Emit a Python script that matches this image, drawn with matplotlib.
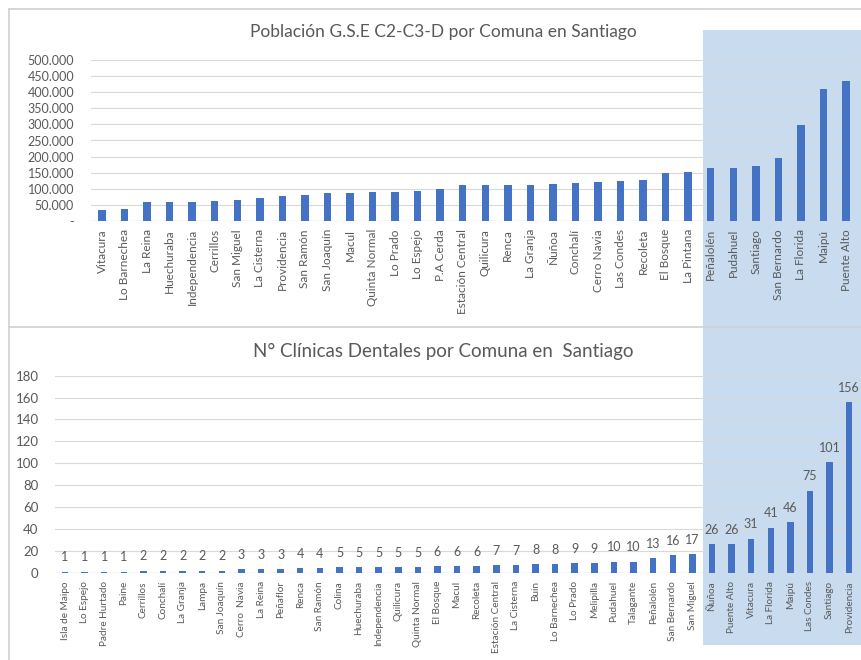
import matplotlib
matplotlib.use("Agg")
import matplotlib.pyplot as plt
from matplotlib.patches import Rectangle
from matplotlib.lines import Line2D
from matplotlib.ticker import FuncFormatter

# Population of socioeconomic groups C2-C3-D by commune
pop_comunas = ["Vitacura", "Lo Barnechea", "La Reina", "Huechuraba", "Independencia",
               "Cerrillos", "San Miguel", "La Cisterna", "Providencia", "San Ramón",
               "San Joaquín", "Macul", "Quinta Normal", "Lo Prado", "Lo Espejo",
               "P.A Cerda", "Estación Central", "Quilicura", "Renca", "La Granja",
               "Ñuñoa", "Conchalí", "Cerro Navia", "Las Condes", "Recoleta",
               "El Bosque", "La Pintana", "Peñalolén", "Pudahuel", "Santiago",
               "San Bernardo", "La Florida", "Maipú", "Puente Alto"]
pop_values = [33000, 36000, 57000, 57000, 59000, 61000, 64000, 72000, 77000, 79000,
              85000, 85000, 89000, 89000, 94000, 98000, 111000, 111000, 111000, 111000,
              115000, 116000, 121000, 125000, 127000, 150000, 152000, 164000, 164000,
              171000, 196000, 298000, 410000, 435000]

# Number of dental clinics by commune
clin_comunas = ["Isla de Maipo", "Lo Espejo", "Padre Hurtado", "Paine", "Cerrillos",
                "Conchalí", "La Granja", "Lampa", "San Joaquín", "Cerro  Navia",
                "La Reina", "Peñaflor", "Renca", "San Ramón", "Colina", "Huechuraba",
                "Independencia", "Quilicura", "Quinta Normal", "El Bosque", "Macul",
                "Recoleta", "Estación Central", "La Cisterna", "Buin", "Lo Barnechea",
                "Lo Prado", "Melipilla", "Pudahuel", "Talagante", "Peñalolén",
                "San Bernardo", "San Miguel", "Ñuñoa", "Puente Alto", "Vitacura",
                "La Florida", "Maipú", "Las Condes", "Santiago", "Providencia"]
clin_values = [1, 1, 1, 1, 2, 2, 2, 2, 2, 3, 3, 3, 4, 4, 5, 5, 5, 5, 5, 6, 6, 6, 7, 7,
               8, 8, 9, 9, 10, 10, 13, 16, 17, 26, 26, 31, 41, 46, 75, 101, 156]

pop_ticks = list(range(0, 500001, 50000))
clin_ticks = list(range(0, 181, 20))

BAR = "#4472C4"
HILITE = "#C8DBEF"
GRID = "#D9D9D9"
TXT = "#595959"
FONT = ["Lato", "DejaVu Sans"]

plt.rcParams["font.family"] = FONT

W, H = 862, 660
fig = plt.figure(figsize=(W / 100, H / 100), dpi=100)
fig.patch.set_facecolor("white")


def fx(px):
    return px / W


def fy(py):
    return 1 - py / H


# highlighted block of the largest communes
fig.add_artist(Rectangle((fx(703), fy(645)), fx(862) - fx(703), fy(30) - fy(645),
                         transform=fig.transFigure, facecolor=HILITE,
                         edgecolor="none", zorder=0))

# chart frames
frame_kw = dict(transform=fig.transFigure, color="#D0D0D0", linewidth=1.2, zorder=1)
fig.add_artist(Line2D([fx(9), 1], [fy(9), fy(9)], **frame_kw))
fig.add_artist(Line2D([fx(9), fx(9)], [fy(9), fy(660)], **frame_kw))
fig.add_artist(Line2D([fx(9), 1], [fy(327), fy(327)], **frame_kw))


def style_axes(ax):
    ax.set_facecolor("none")
    for s in ax.spines.values():
        s.set_visible(False)
    ax.grid(axis="y", color=GRID, linewidth=0.8)
    ax.set_axisbelow(True)
    ax.tick_params(axis="both", length=0, colors=TXT)
    ax.axhline(0, color=GRID, linewidth=1.0, zorder=1)


# top chart: population
ax1 = fig.add_axes([fx(90.7), fy(220.7), fx(857.3) - fx(90.7), fy(60.3) - fy(220.7)])
style_axes(ax1)
x1 = range(len(pop_comunas))
ax1.bar(x1, pop_values, width=0.33, color=BAR, zorder=2)
ax1.set_xlim(-0.5, len(pop_comunas) - 0.5)
ax1.set_ylim(0, 500000)
ax1.set_yticks(pop_ticks)
ax1.yaxis.set_major_formatter(FuncFormatter(
    lambda v, p: "-" if v == 0 else f"{int(v):,}".replace(",", ".")))
ax1.set_xticks(list(x1))
ax1.set_xticklabels(pop_comunas, rotation=90, fontsize=8.5, color=TXT)
ax1.tick_params(axis="y", labelsize=9, pad=12)
ax1.tick_params(axis="x", pad=6)
fig.text(fx(443), fy(32), "Población G.S.E C2-C3-D por Comuna en Santiago",
         ha="center", va="center", fontsize=12.5, color=TXT)

# bottom chart: dental clinics
ax2 = fig.add_axes([fx(55.2), fy(572.7), fx(859) - fx(55.2), fy(375.7) - fy(572.7)])
style_axes(ax2)
x2 = range(len(clin_comunas))
bars = ax2.bar(x2, clin_values, width=0.33, color=BAR, zorder=2)
ax2.set_xlim(-0.5, len(clin_comunas) - 0.5)
ax2.set_ylim(0, 180)
ax2.set_yticks(clin_ticks)
ax2.set_xticks(list(x2))
ax2.set_xticklabels(clin_comunas, rotation=90, fontsize=7.2, color=TXT)
ax2.tick_params(axis="y", labelsize=9.5, pad=12)
ax2.tick_params(axis="x", pad=6)
for xi, v in zip(x2, clin_values):
    ax2.annotate(str(v), (xi, v), xytext=(0, 6), textcoords="offset points",
                 ha="center", va="bottom", fontsize=9, color=TXT)
fig.text(fx(443), fy(351), "N° Clínicas Dentales por Comuna en  Santiago",
         ha="center", va="center", fontsize=13.5, color=TXT)

fig.savefig("out.png", dpi=100, facecolor="white")
